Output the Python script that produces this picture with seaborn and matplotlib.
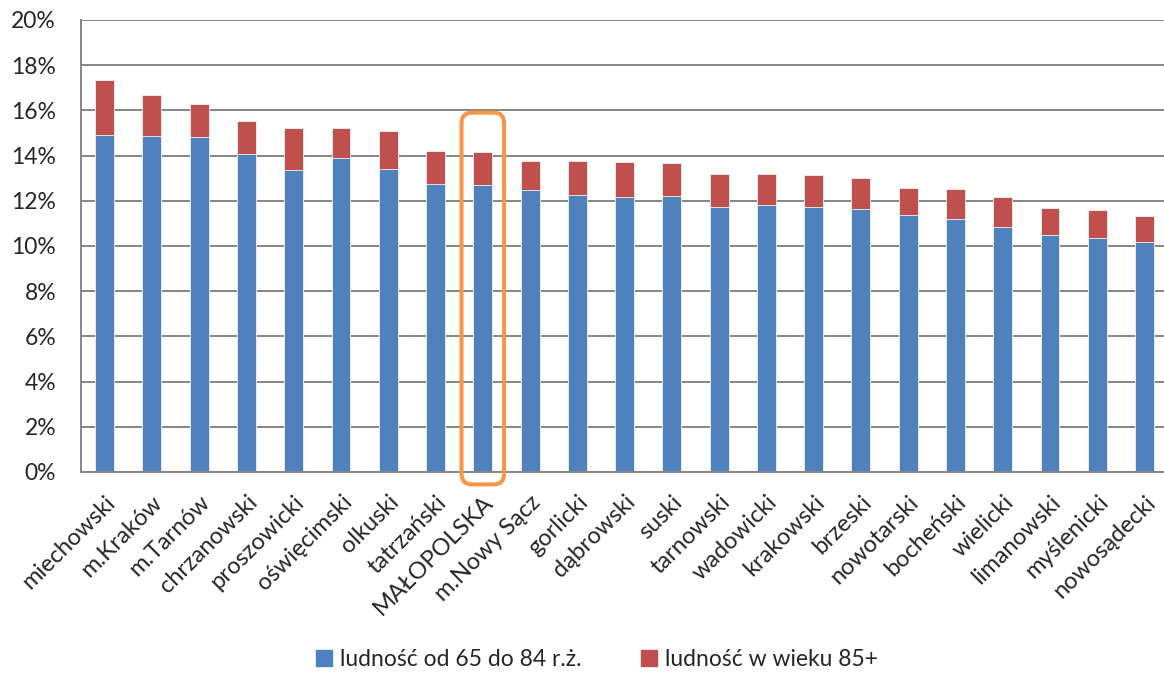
import numpy as np
import pandas as pd
import seaborn as sns
import matplotlib.pyplot as plt
from matplotlib.patches import Patch, FancyBboxPatch
from matplotlib.ticker import PercentFormatter, FixedLocator

# Share of population aged 65+ by powiat (Małopolska), in %
regions = ["miechowski", "m.Kraków", "m.Tarnów", "chrzanowski", "proszowicki",
           "oświęcimski", "olkuski", "tatrzański", "MAŁOPOLSKA", "m.Nowy Sącz",
           "gorlicki", "dąbrowski", "suski", "tarnowski", "wadowicki",
           "krakowski", "brzeski", "nowotarski", "bocheński", "wielicki",
           "limanowski", "myślenicki", "nowosądecki"]
age_65_84 = [14.90, 14.85, 14.81, 14.06, 13.35, 13.88, 13.39, 12.73, 12.69, 12.46,
             12.24, 12.15, 12.23, 11.71, 11.80, 11.71, 11.62, 11.37, 11.18, 10.83,
             10.47, 10.37, 10.16]
age_85_plus = [2.45, 1.82, 1.49, 1.47, 1.87, 1.32, 1.70, 1.47, 1.47, 1.30,
               1.51, 1.55, 1.44, 1.48, 1.39, 1.43, 1.37, 1.20, 1.34, 1.32,
               1.20, 1.22, 1.17]

df = pd.DataFrame({"region": regions, "young": age_65_84, "old": age_85_plus})
df["total"] = df["young"] + df["old"]

blue = "#4F81BD"
red = "#C0504D"
grid_col = "#868686"

sns.set_style("white")
plt.rcParams["font.family"] = ["Lato", "DejaVu Sans"]

fig = plt.figure(figsize=(11.64, 6.73), dpi=100)
ax = fig.add_axes([0.0696, 0.2987, 0.934, 0.6716])

# stacked bars: total in red, lower part in blue on top of it
sns.barplot(data=df, x="region", y="total", color=red, width=0.40,
            saturation=1, edgecolor="#f2f2f2", linewidth=0.6, ax=ax)
sns.barplot(data=df, x="region", y="young", color=blue, width=0.40,
            saturation=1, edgecolor="#f2f2f2", linewidth=0.6, ax=ax)

n = len(df)
ax.set_xlim(-0.5, n - 0.5)
ax.set_ylim(0, 20)
ax.set_yticks(np.arange(0, 21, 2))
ax.yaxis.set_major_formatter(PercentFormatter(decimals=0))
ax.grid(axis="y", color=grid_col, linewidth=1.4)
ax.set_axisbelow(True)
ax.set_xlabel("")
ax.set_ylabel("")

for s in ["top", "right"]:
    ax.spines[s].set_visible(False)
for s in ["left", "bottom"]:
    ax.spines[s].set_color(grid_col)
    ax.spines[s].set_linewidth(1.4)

ax.tick_params(axis="y", labelsize=16.5, length=6, color=grid_col, width=1.4,
               pad=12)
ax.tick_params(axis="x", which="major", length=0, labelsize=17, pad=14)
ax.xaxis.set_minor_locator(FixedLocator(np.arange(-0.5, n, 1)))
ax.tick_params(axis="x", which="minor", length=6, color=grid_col, width=1.4)
plt.setp(ax.get_xticklabels(), rotation=45, ha="right", rotation_mode="anchor")

# highlight box around the regional average
idx = regions.index("MAŁOPOLSKA")
box = FancyBboxPatch((idx - 0.45, -0.55), 0.9, 16.45,
                     boxstyle="round,pad=0,rounding_size=0.22",
                     fill=False, edgecolor="#F79646", linewidth=2.9,
                     clip_on=False, mutation_aspect=2.1, zorder=5)
ax.add_patch(box)

handles = [Patch(color=blue, label="ludność od 65 do 84 r.ż."),
           Patch(color=red, label="ludność w wieku 85+")]
fig.legend(handles=handles, loc="center", bbox_to_anchor=(0.513, 0.02),
           ncol=2, frameon=False, fontsize=16.5, handlelength=0.7,
           handleheight=0.7, columnspacing=2.6, handletextpad=0.35)

fig.savefig("out.png", dpi=100)
